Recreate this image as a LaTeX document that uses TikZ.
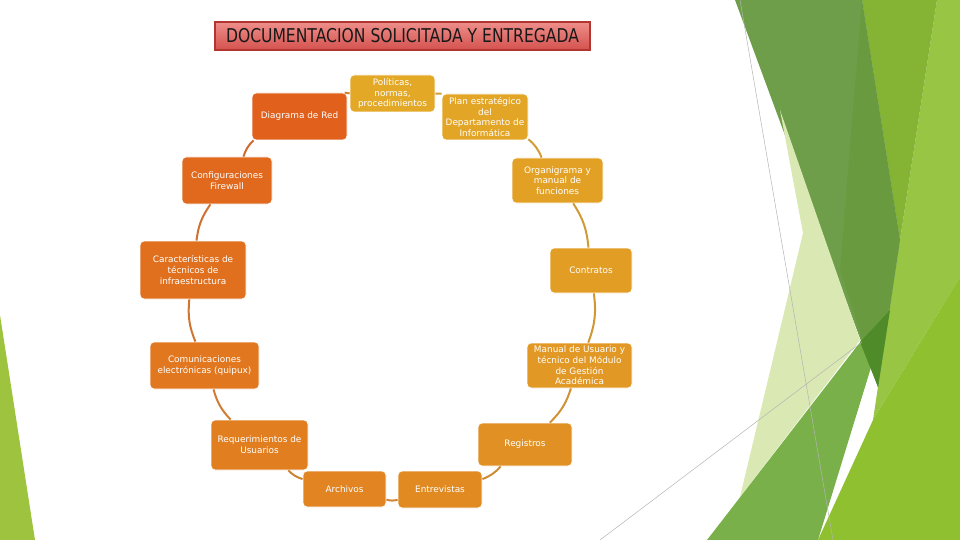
\documentclass[tikz,border=0pt]{standalone}
\usepackage{fontspec}
\usepackage{tikz}
\usetikzlibrary{positioning, calc}
\usepackage{xcolor}
\newfontfamily\docfont{DejaVu Sans}
\newfontfamily\titlefont[FakeStretch=0.82]{DejaVu Sans}
\definecolor{goldcol}{HTML}{E2A826}
\definecolor{redcol}{HTML}{E0601C}
\definecolor{titletop}{HTML}{EE8E8A}
\definecolor{titlebot}{HTML}{D4524E}
\definecolor{titleline}{HTML}{B2352F}
\definecolor{facetdark}{HTML}{6F9E4A}
\definecolor{facetdeep}{HTML}{699A40}
\definecolor{facetdarkest}{HTML}{4F8C29}
\definecolor{facetolive}{HTML}{85B334}
\definecolor{facetlight}{HTML}{98C543}
\definecolor{facetlime}{HTML}{8EC030}
\definecolor{facetmid}{HTML}{79B04A}
\definecolor{facetpale}{HTML}{DAE9B3}
\definecolor{facetleft}{HTML}{9DC33F}
\definecolor{facetrule}{HTML}{B4B4B4}
\tikzset{
  % rounded box of the cycle
  docbox/.style={rounded corners=4pt, fill=#1, draw=white, line width=0.8pt,
                 text=white, align=center, inner sep=1pt,
                 font=\docfont\fontsize{8.9}{10.7}\selectfont},
  % arc between two boxes
  link/.style={draw=#1, line width=2pt},
  % heading bar
  titlebox/.style={draw=titleline, line width=1.5pt, top color=titletop,
                   bottom color=titlebot, text=black!90,
                   minimum width=375, minimum height=28, inner sep=0pt,
                   font=\titlefont\fontsize{19}{21}\selectfont},
}

\begin{document}
\begin{tikzpicture}[x=1pt, y=-1pt]
  \useasboundingbox (0,0) rectangle (960,540);
  % facets of the slide background
  \fill[facetleft] (0,315) -- (35,540) -- (0,540) -- cycle;
  \fill[facetlight] (937,0) -- (960,0) -- (960,277) -- (873,420) -- (900,240) -- cycle;
  \fill[facetlime] (873,420) -- (960,277) -- (960,540) -- (818,540) -- cycle;
  \fill[facetolive] (862,0) -- (937,0) -- (900,240) -- cycle;
  \fill[facetdark] (735,0) -- (862,0) -- (900,240) -- (878,387) -- cycle;
  \fill[facetdeep] (862,0) -- (900,240) -- (878,387) -- (840,270) -- cycle;
  \fill[facetpale] (780,110) -- (860,340) -- (740,497) -- (803,233) -- cycle;
  \fill[facetmid] (707,540) -- (861,341) -- (888,312) -- (818,540) -- cycle;
  \fill[facetdarkest] (860,342) -- (890,310) -- (878,387) -- cycle;
  \draw[facetrule, line width=0.5pt] (740,0) -- (833,540);
  \draw[facetrule, line width=0.5pt] (600,540) -- (862,342);

  % heading
  \node[titlebox] (title) at (402.5,36) {DOCUMENTACION SOLICITADA Y ENTREGADA};

  % boxes, clockwise from the top
  \node[docbox=goldcol!100!redcol, minimum width=85, minimum height=37] (pol) at (392.5,93.5)
    {Políticas,\\normas,\\procedimientos};
  \node[docbox=goldcol!96!redcol, minimum width=86, minimum height=46] (plan) at (485,117)
    {Plan estratégico\\del\\Departamento de\\Informática};
  \node[docbox=goldcol!90!redcol, minimum width=91, minimum height=45] (org) at (557.5,180.5)
    {Organigrama y\\manual de\\funciones};
  \node[docbox=goldcol!85!redcol, minimum width=82, minimum height=45] (con) at (591,270.5)
    {Contratos};
  \node[docbox=goldcol!78!redcol, minimum width=105, minimum height=45] (man) at (579.5,365.5)
    {Manual de Usuario y\\técnico del Módulo\\de Gestión\\Académica};
  \node[docbox=goldcol!68!redcol, minimum width=94, minimum height=43] (reg) at (525,444.5)
    {Registros};
  \node[docbox=goldcol!58!redcol, minimum width=84, minimum height=37] (ent) at (440,489.5)
    {Entrevistas};
  \node[docbox=goldcol!50!redcol, minimum width=83, minimum height=36] (arch) at (344.5,489)
    {Archivos};
  \node[docbox=goldcol!42!redcol, minimum width=97, minimum height=50] (req) at (259.5,445)
    {Requerimientos de\\Usuarios};
  \node[docbox=goldcol!32!redcol, minimum width=109, minimum height=47] (com) at (204.5,365.5)
    {Comunicaciones\\electrónicas (quipux)};
  \node[docbox=goldcol!22!redcol, minimum width=106, minimum height=58] (car) at (193,270)
    {Características de\\técnicos de\\infraestructura};
  \node[docbox=goldcol!12!redcol, minimum width=90, minimum height=47] (cfg) at (227,180.5)
    {Configuraciones\\Firewall};
  \node[docbox=goldcol!0!redcol, minimum width=95, minimum height=47] (dia) at (299.5,116.5)
    {Diagrama de Red};

  % arcs of the ring
  \foreach \a/\b/\p in {pol/plan/98, plan/org/93, org/con/88, con/man/82, man/reg/73,
                        reg/ent/63, ent/arch/54, arch/req/46, req/com/37, com/car/27,
                        car/cfg/17, cfg/dia/6, dia/pol/50}
    \draw[link={goldcol!\p!redcol!90!black!90!white}] (\a) to[bend left=14] (\b);
\end{tikzpicture}
\end{document}
